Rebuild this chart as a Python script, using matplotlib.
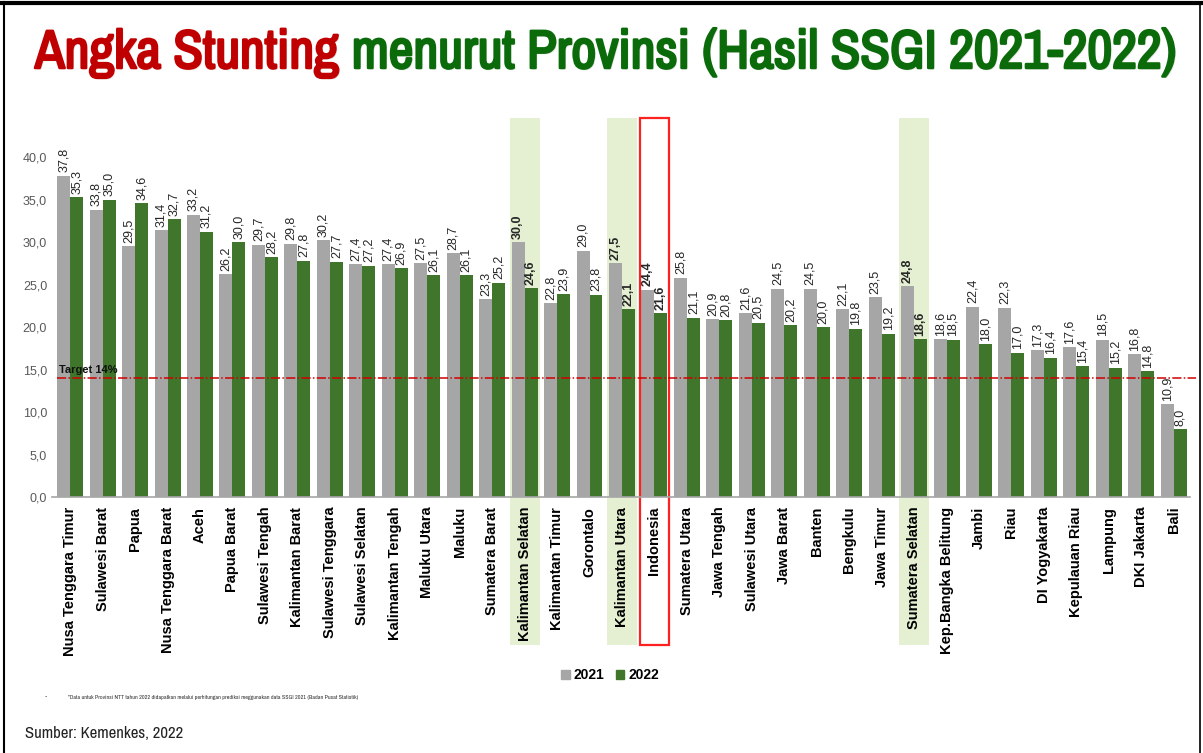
import numpy as np
import matplotlib
matplotlib.use("Agg")
import matplotlib.pyplot as plt
import matplotlib.patheffects as pe
from matplotlib.patches import Patch, Rectangle
from matplotlib.lines import Line2D
import matplotlib.transforms as mtransforms

# data
provinces = ["Nusa Tenggara Timur", "Sulawesi Barat", "Papua", "Nusa Tenggara Barat", "Aceh",
             "Papua Barat", "Sulawesi Tengah", "Kalimantan Barat", "Sulawesi Tenggara",
             "Sulawesi Selatan", "Kalimantan Tengah", "Maluku Utara", "Maluku", "Sumatera Barat",
             "Kalimantan Selatan", "Kalimantan Timur", "Gorontalo", "Kalimantan Utara", "Indonesia",
             "Sumatera Utara", "Jawa Tengah", "Sulawesi Utara", "Jawa Barat", "Banten", "Bengkulu",
             "Jawa Timur", "Sumatera Selatan", "Kep.Bangka Belitung", "Jambi", "Riau",
             "DI Yogyakarta", "Kepulauan Riau", "Lampung", "DKI Jakarta", "Bali"]
val_2021 = [37.8, 33.8, 29.5, 31.4, 33.2, 26.2, 29.7, 29.8, 30.2, 27.4, 27.4, 27.5, 28.7, 23.3,
            30.0, 22.8, 29.0, 27.5, 24.4, 25.8, 20.9, 21.6, 24.5, 24.5, 22.1, 23.5, 24.8, 18.6,
            22.4, 22.3, 17.3, 17.6, 18.5, 16.8, 10.9]
val_2022 = [35.3, 35.0, 34.6, 32.7, 31.2, 30.0, 28.2, 27.8, 27.7, 27.2, 26.9, 26.1, 26.1, 25.2,
            24.6, 23.9, 23.8, 22.1, 21.6, 21.1, 20.8, 20.5, 20.2, 20.0, 19.8, 19.2, 18.6, 18.5,
            18.0, 17.0, 16.4, 15.4, 15.2, 14.8, 8.0]
highlight = ["Kalimantan Selatan", "Kalimantan Utara", "Sumatera Selatan"]
national = "Indonesia"
target = 14
yticks = [0, 5, 10, 15, 20, 25, 30, 35, 40]

gray = "#A6A6A6"
green = "#3F762B"
narrow = ["Archivo Narrow", "Liberation Sans Narrow", "DejaVu Sans"]
plt.rcParams["font.family"] = ["Liberation Sans", "DejaVu Sans"]

fig = plt.figure(figsize=(12.03, 7.53), dpi=100)
ax = fig.add_axes([52 / 1203, 1 - 497 / 753, (1190 - 52) / 1203, (497 - 118) / 753])

x = np.arange(len(provinces))
w = 0.4
ax.bar(x - w / 2, val_2021, w, color=gray, zorder=3)
ax.bar(x + w / 2, val_2022, w, color=green, zorder=3)

ax.set_xlim(-0.56, len(provinces) - 1 + 0.5)
ax.set_ylim(0, 44.6)

# highlight bands and the national box, reaching down behind the labels
trans = mtransforms.blended_transform_factory(ax.transData, ax.transAxes)
for i, p in enumerate(provinces):
    if p in highlight:
        ax.add_patch(Rectangle((i - 0.46, -0.39), 0.92, 1.39, transform=trans,
                               facecolor="#E5F0D3", edgecolor="none", zorder=0, clip_on=False))
    if p == national:
        ax.add_patch(Rectangle((i - 0.45, -0.39), 0.9, 1.39, transform=trans,
                               facecolor="none", edgecolor="#FF2020", lw=1.6, zorder=4, clip_on=False))

# value labels
for i, p in enumerate(provinces):
    wt = "bold" if (p in highlight or p == national) else "normal"
    for off, v in ((-w / 2, val_2021[i]), (w / 2, val_2022[i])):
        ax.text(i + off, v + 0.4, f"{v:.1f}".replace(".", ","), rotation=90, ha="center",
                va="bottom", fontsize=9, color="#262626", fontweight=wt, zorder=5)

# target line
ax.axhline(target, xmin=0.004, xmax=1.005, color="#D00000", ls=(0, (6, 1.5, 1, 1.5)), lw=1.1,
           zorder=4, clip_on=False)
ax.text(-0.35, target + 0.3, f"Target {target}%", fontsize=8, fontweight="bold", color="#111111",
        va="bottom", ha="left", zorder=5)

ax.set_yticks(yticks)
ax.set_yticklabels([f"{t:.1f}".replace(".", ",") for t in yticks], fontsize=9, color="#595959")
ax.set_xticks(x)
ax.set_xticklabels(provinces, rotation=90, fontsize=10.5, fontweight="bold", color="black")
ax.tick_params(axis="both", length=0)
ax.tick_params(axis="x", pad=7)
for s in ["left", "top", "right"]:
    ax.spines[s].set_visible(False)
ax.spines["bottom"].set_color("#A6A6A6")
ax.spines["bottom"].set_linewidth(1.2)
ax.spines["bottom"].set_zorder(6)

# title in two colours, thickened with a stroke and a faint shadow
red_fx = [pe.SimplePatchShadow(offset=(1.2, -1.2), shadow_rgbFace="#BBBBBB", alpha=0.35),
          pe.withStroke(linewidth=1.8, foreground="#C00000")]
green_fx = [pe.SimplePatchShadow(offset=(1.2, -1.2), shadow_rgbFace="#BBBBBB", alpha=0.35),
            pe.withStroke(linewidth=1.8, foreground="#0B6B0B")]
t1 = fig.text(35 / 1203, 1 - 68 / 753, "Angka Stunting", fontsize=39, fontweight="bold",
              color="#C00000", family=narrow, stretch="condensed", va="baseline",
              path_effects=red_fx)
ax.annotate(" menurut Provinsi (Hasil SSGI 2021-2022)", xy=(1, 0), xycoords=t1,
            va="bottom", ha="left", fontsize=39, fontweight="bold", color="#0B6B0B",
            family=narrow, stretch="condensed", annotation_clip=False, path_effects=green_fx)

# legend
handles = [Patch(color=gray, label="2021"), Patch(color=green, label="2022")]
fig.legend(handles=handles, loc="center", bbox_to_anchor=(610 / 1203, 1 - 675 / 753), ncol=2,
           frameon=False, prop={"weight": "bold", "size": 10}, handlelength=0.6,
           handleheight=0.6, handletextpad=0.3, columnspacing=0.8)

# footnotes
fig.text(45 / 1203, 1 - 697 / 753, "-", fontsize=5, va="center", color="#333333")
fig.text(68 / 1203, 1 - 697 / 753,
         "*Data untuk Provinsi NTT tahun 2022 didapatkan melalui perhitungan prediksi meggunakan "
         "data SSGI 2021 (Badan Pusat Statistik)", fontsize=4.3, va="center", family=narrow,
         color="#333333")
fig.text(25 / 1203, 1 - 733 / 753, "Sumber: Kemenkes, 2022", fontsize=12, va="center",
         family=narrow, color="#222222")

# frame around the slide
fig.add_artist(Line2D([0.003, 0.003], [0, 0.997], color="black", lw=1.5, transform=fig.transFigure))
fig.add_artist(Line2D([0, 1], [0.996, 0.996], color="black", lw=3, transform=fig.transFigure))
fig.add_artist(Line2D([0.9975, 0.9975], [0, 0.997], color="black", lw=1.2, transform=fig.transFigure))

fig.savefig("out.png", dpi=100)
